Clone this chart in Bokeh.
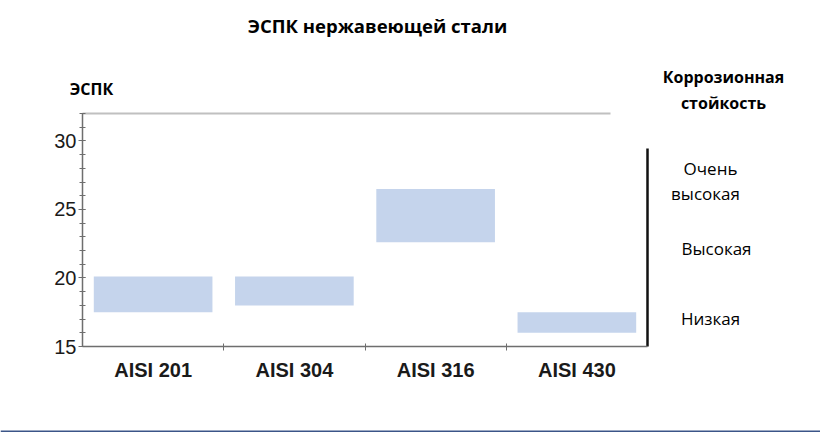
from bokeh.plotting import figure
from bokeh.models import FixedTicker, Label, LinearAxis, Range1d, Span
from bokeh.embed import file_html
from bokeh.resources import INLINE

steels = ["AISI 201", "AISI 304", "AISI 316", "AISI 430"]
espk_low = [17.5, 18.0, 22.6, 16.0]
espk_high = [20.1, 20.1, 26.5, 17.5]
y_major = [15, 20, 25, 30]
y_minor = list(range(15, 33))
levels = ["Очень", "высокая", "Высокая", "Низкая"]

W, H = 820, 432
# where the data box (x 0..4, y 15..32) sits on the page
FL, FT, FR, FB = 82, 113, 647, 346
X0, X1, Y0, Y1 = 0, 4, 15, 32
sx = (FR - FL) / (X1 - X0)
sy = (FB - FT) / (Y1 - Y0)

# frame covers the whole canvas so texts outside the data box are not clipped
p = figure(width=W, height=H, output_backend="svg", toolbar_location=None,
           x_range=Range1d(X0 - FL / sx, X0 + (W - FL) / sx),
           y_range=Range1d(Y0 - (H - FB) / sy, Y0 + FB / sy),
           x_axis_location=None, y_axis_location=None,
           min_border=0,
           background_fill_color="white", border_fill_color="white")
p.outline_line_color = None
p.xgrid.visible = False
p.ygrid.visible = False

centers = [i + 0.5 for i in range(len(steels))]
p.vbar(x=centers, bottom=espk_low, top=espk_high, width=0.84,
       fill_color="#c5d4ec", line_color=None)

# y axis
yaxis = LinearAxis(ticker=FixedTicker(ticks=y_major, minor_ticks=y_minor),
                   fixed_location=X0, bounds=(Y0, Y1))
yaxis.axis_line_color = "#6e6e6e"
yaxis.axis_line_width = 1.5
yaxis.major_tick_line_color = "#6e6e6e"
yaxis.minor_tick_line_color = "#6e6e6e"
yaxis.major_tick_in = 3
yaxis.major_tick_out = 4
yaxis.minor_tick_in = 3
yaxis.minor_tick_out = 3
yaxis.major_label_text_font = "Liberation Sans"
yaxis.major_label_text_font_size = "20px"
yaxis.major_label_text_color = "#1a1a1a"
yaxis.major_label_standoff = 2
p.add_layout(yaxis, "left")

# x axis (labels at centers, boundary ticks as minor ticks)
xaxis = LinearAxis(ticker=FixedTicker(ticks=centers, minor_ticks=[1, 2, 3]),
                   fixed_location=Y0, bounds=(X0, X1))
xaxis.major_label_overrides = {c: s for c, s in zip(centers, steels)}
xaxis.axis_line_color = "#6e6e6e"
xaxis.axis_line_width = 1.5
xaxis.major_tick_line_color = None
xaxis.minor_tick_line_color = "#6e6e6e"
xaxis.minor_tick_in = 3
xaxis.minor_tick_out = 4
xaxis.major_label_text_font = "Liberation Sans"
xaxis.major_label_text_font_style = "bold"
xaxis.major_label_text_font_size = "20px"
xaxis.major_label_text_color = "#1a1a1a"
xaxis.major_label_standoff = 6
p.add_layout(xaxis, "below")

# top grey border line, right black bar, bottom blue rule
p.segment(x0=[X0], y0=[Y1], x1=[X0 + (610 - FL) / sx], y1=[Y1],
          line_color="#c0c0c0", line_width=2)
p.segment(x0=[X1], y0=[Y0], x1=[X1], y1=[Y0 + (FB - 148) / sy],
          line_color="#111111", line_width=2.5)
p.add_layout(Span(location=Y0 - (431 - FB) / sy, dimension="width",
                  line_color="#3b5588", line_width=2))

def lab(text, x_page, y_page, size="16px", bold=False, align="center"):
    p.add_layout(Label(x=X0 + (x_page - FL) / sx, y=Y0 + (FB - y_page) / sy,
                       text=text, text_font="Open Sans", text_font_size=size,
                       text_font_style="bold" if bold else "normal",
                       text_color="#000000", text_align=align,
                       text_baseline="middle"))

lab("ЭСПК нержавеющей стали", 377, 25, "18.5px", True)
lab("ЭСПК", 91, 88, "16px", True)
lab("Коррозионная", 723, 76, "16px", True)
lab("стойкость", 723, 102, "16px", True)
lab(levels[0], 710, 168, "17px")
lab(levels[1], 705, 193, "17px")
lab(levels[2], 716, 248, "17px")
lab(levels[3], 710, 318, "17px")

open("out.html", "w").write(file_html(p, INLINE))
